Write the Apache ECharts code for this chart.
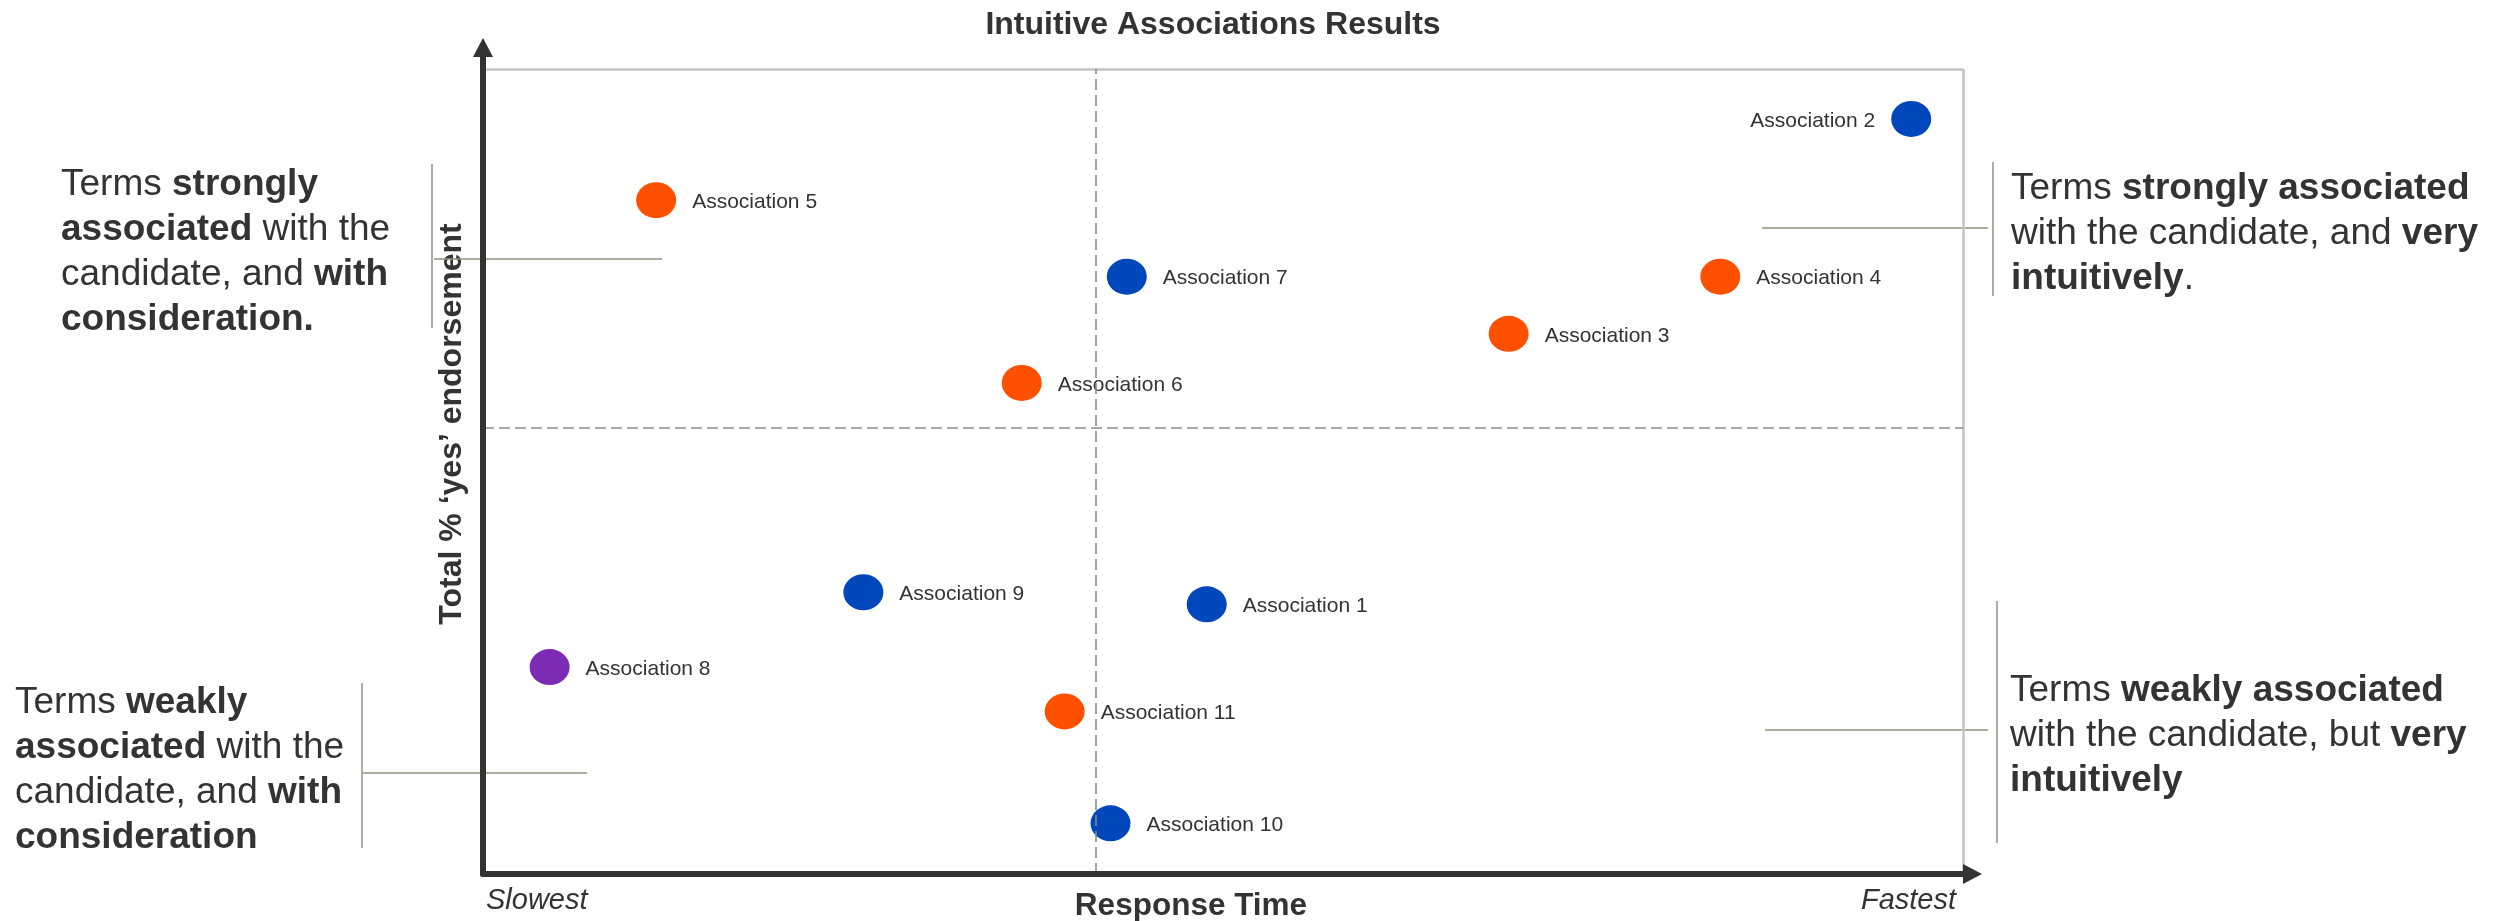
<!DOCTYPE html>
<html>
<head>
<meta charset="utf-8">
<title>Intuitive Associations Results</title>
<script src="https://cdn.jsdelivr.net/npm/echarts@6/dist/echarts.min.js"></script>
<style>
  html, body { margin: 0; padding: 0; background: #ffffff; }
  #chart { width: 2496px; height: 921px; }
</style>
</head>
<body>
<div id="chart"></div>
<script>
// ---- data ----
const associations = [
  'Association 1', 'Association 2', 'Association 3', 'Association 4',
  'Association 5', 'Association 6', 'Association 7', 'Association 8',
  'Association 9', 'Association 10', 'Association 11'
];
// response speed score (0 = slowest, 100 = fastest)
const responseSpeed = [48.9, 96.5, 69.3, 83.6, 11.7, 36.4, 43.5, 4.5, 25.7, 42.4, 39.3];
// total % 'yes' endorsement (relative scale)
const yesEndorsement = [33.5, 93.8, 67.1, 74.2, 83.7, 61.0, 74.2, 25.7, 35.0, 6.3, 20.2];
// term group of each association
const termGroup = ['A', 'A', 'B', 'B', 'B', 'B', 'A', 'C', 'A', 'A', 'B'];
// quadrant dividers
const speedMidpoint = 41.4;
const endorsementMidpoint = 55.4;
// labels at the two ends of the response-time axis
const speedEndLabels = ['Slowest', 'Fastest'];

// ---- styling ----
const FONT = '"Liberation Sans", Arial, Helvetica, sans-serif';
const TEXT = '#333333';
const groupColors = { A: '#0047BB', B: '#FF5000', C: '#7D2AB5' };
// arrow head with a short shaft that overlaps the end of the axis line
const arrowPath = 'path://M10,0L20,19L13,19L13,60L7,60L7,19L0,19Z';

const chart = echarts.init(document.getElementById('chart'), null, { renderer: 'canvas' });

function groupSeries(g, withLines) {
  const data = [];
  associations.forEach((name, i) => {
    if (termGroup[i] !== g) return;
    const item = { name: name, value: [responseSpeed[i], yesEndorsement[i]] };
    // points at the far right keep their label inside the frame
    if (responseSpeed[i] > 90) item.label = { position: 'left' };
    data.push(item);
  });
  const s = {
    type: 'scatter',
    name: g,
    data: data,
    symbol: 'circle',
    symbolSize: [40, 36],
    itemStyle: { color: groupColors[g], opacity: 1 },
    label: {
      show: true,
      position: 'right',
      distance: 16,
      offset: [0, 2],
      formatter: '{b}',
      fontFamily: FONT,
      fontSize: 21,
      color: TEXT
    },
    emphasis: { disabled: true },
    z: 3
  };
  if (withLines) {
    s.markLine = {
      silent: true,
      symbol: 'none',
      animation: false,
      label: { show: false },
      data: [
        { xAxis: 100, lineStyle: { color: '#c3c3c3', width: 2.5, type: 'solid' } },
        { yAxis: 100, lineStyle: { color: '#c3c3c3', width: 2.5, type: 'solid' } },
        { xAxis: speedMidpoint, lineStyle: { color: '#8a8a8a', width: 1.6, type: [11, 5] } },
        { yAxis: endorsementMidpoint, lineStyle: { color: '#8a8a8a', width: 1.6, type: [11, 5] } }
      ]
    };
  }
  return s;
}

function annotation(x, y, text) {
  return {
    type: 'text',
    x: x,
    y: y,
    silent: true,
    style: {
      text: text,
      align: 'left',
      verticalAlign: 'middle',
      fill: TEXT,
      rich: {
        n: { fontFamily: FONT, fontSize: 37, fontWeight: 'normal', lineHeight: 45, fill: TEXT },
        b: { fontFamily: FONT, fontSize: 37, fontWeight: 'bold', lineHeight: 45, fill: TEXT }
      }
    }
  };
}

function connector(x1, y1, x2, y2) {
  return {
    type: 'line',
    silent: true,
    shape: { x1: x1, y1: y1, x2: x2, y2: y2 },
    style: { stroke: '#92927f', lineWidth: 1.5 }
  };
}

const option = {
  backgroundColor: '#ffffff',
  animation: false,
  grid: {
    left: 483, top: 69, width: 1480, height: 805,
    show: false, containLabel: false, outerBoundsMode: 'none'
  },
  xAxis: {
    type: 'value',
    min: 0, max: 100, interval: 100,
    z: 10,
    axisLine: {
      show: true,
      symbol: ['none', arrowPath],
      symbolSize: [20, 60],
      symbolOffset: [0, -11],
      lineStyle: { color: '#333333', width: 6 }
    },
    axisTick: { show: false },
    splitLine: { show: false },
    axisLabel: {
      show: true,
      margin: 12,
      padding: [0, 7, 0, 3],
      showMinLabel: true,
      showMaxLabel: true,
      alignMinLabel: 'left',
      alignMaxLabel: 'right',
      fontFamily: FONT,
      fontSize: 29,
      fontStyle: 'italic',
      color: TEXT,
      formatter: v => (v === 0 ? speedEndLabels[0] : (v === 100 ? speedEndLabels[1] : ''))
    }
  },
  yAxis: {
    type: 'value',
    min: 0, max: 100,
    z: 10,
    axisLine: {
      show: true,
      symbol: ['none', arrowPath],
      symbolSize: [20, 60],
      symbolOffset: [0, 1],
      lineStyle: { color: '#333333', width: 6 }
    },
    axisTick: { show: false },
    splitLine: { show: false },
    axisLabel: { show: false }
  },
  series: [groupSeries('A', true), groupSeries('B', false), groupSeries('C', false)],
  graphic: [
    {
      type: 'text', x: 1213, y: 25, silent: true,
      style: {
        text: 'Intuitive Associations Results',
        align: 'center', verticalAlign: 'middle',
        fontFamily: FONT, fontSize: 32, fontWeight: 'bold', fill: TEXT
      }
    },
    {
      type: 'text', x: 1191, y: 906, silent: true,
      style: {
        text: 'Response Time',
        align: 'center', verticalAlign: 'middle',
        fontFamily: FONT, fontSize: 31.5, fontWeight: 'bold', fill: TEXT
      }
    },
    {
      type: 'text', x: 452, y: 424, rotation: Math.PI / 2, silent: true,
      style: {
        text: 'Total % \u2018yes\u2019 endorsement',
        align: 'center', verticalAlign: 'middle',
        fontFamily: FONT, fontSize: 32, fontWeight: 'bold', fill: TEXT
      }
    },
    annotation(61, 252,
      '{n|Terms }{b|strongly}\n{b|associated}{n| with the}\n{n|candidate, and }{b|with}\n{b|consideration.}'),
    annotation(2011, 234,
      '{n|Terms }{b|strongly associated}\n{n|with the candidate, and }{b|very}\n{b|intuitively}{n|.}'),
    annotation(15, 770,
      '{n|Terms }{b|weakly}\n{b|associated}{n| with the}\n{n|candidate, and }{b|with}\n{b|consideration}'),
    annotation(2010, 736,
      '{n|Terms }{b|weakly associated}\n{n|with the candidate, but }{b|very}\n{b|intuitively}'),
    connector(432, 164, 432, 328),
    connector(434, 259, 662, 259),
    connector(1993, 162, 1993, 296),
    connector(1762, 228, 1988, 228),
    connector(1997, 601, 1997, 843),
    connector(1765, 730, 1988, 730),
    connector(362, 683, 362, 848),
    connector(363, 773, 587, 773)
  ]
};

chart.setOption(option);
</script>
</body>
</html>
